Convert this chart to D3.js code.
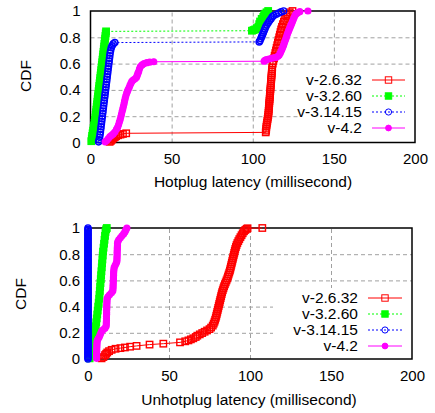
<!DOCTYPE html>
<html><head><meta charset="utf-8">
<script src="https://cdn.jsdelivr.net/npm/d3@7"></script>
<style>
html,body{margin:0;padding:0;background:#fff;}
svg text{font-family:"Liberation Sans",Arial,sans-serif;}
</style></head>
<body><svg id="c" width="435" height="413"></svg>
<script>
// ---------------- data ----------------
const seriesNames = ["v-2.6.32", "v-3.2.60", "v-3.14.15", "v-4.2"];
const xTicks = [0, 50, 100, 150, 200];
const yTicks = [0, 0.2, 0.4, 0.6, 0.8, 1];

// Hotplug latency (ms), CDF
const hot_v2632 = [[11.8,0.005],[12.5,0.012],[13,0.02],[13.5,0.027],[14.2,0.034],[15,0.041],[15.8,0.048],[17,0.055],[18.5,0.06],[20,0.065],[22,0.07],
 [108,0.077],[108.2,0.09],[108.3,0.105],[108.4,0.12],[108.6,0.135],[108.8,0.15],[109,0.165],[109.2,0.18],[109.4,0.195],[109.6,0.21],[109.7,0.225],[109.8,0.24],[109.9,0.255],[110,0.27],[110.1,0.285],[110.2,0.3],[110.3,0.315],[110.4,0.33],[110.5,0.345],[110.6,0.36],[110.7,0.375],[110.8,0.39],[110.9,0.405],[111,0.42],[111.1,0.435],[111.2,0.45],[111.3,0.465],[111.4,0.48],[111.5,0.495],[111.6,0.51],[111.7,0.525],[111.8,0.54],[111.9,0.555],[112,0.57],
 [112.3,0.6],[112.7,0.62],[113.1,0.64],[113.5,0.66],[113.9,0.68],[114.3,0.70],[114.7,0.72],[115.1,0.74],[115.5,0.76],[115.9,0.78],[116.3,0.8],[116.7,0.82],[117.1,0.84],[117.5,0.86],[118,0.88],[118.6,0.9],[119.2,0.92],[119.9,0.94],[120.7,0.96],[121.6,0.975],[122.8,0.99],[124.5,1.0]];
const hot_v3260 = [[0.5,0.01],[0.8,0.03],[1,0.05],[1.3,0.07],[1.6,0.09],[1.9,0.11],[2.2,0.13],[2.5,0.15],[2.8,0.17],[3,0.19],[3.2,0.21],[3.4,0.23],[3.6,0.25],[3.8,0.27],[4,0.29],[4.2,0.31],[4.4,0.33],[4.6,0.35],[4.8,0.37],[5,0.39],[5.2,0.41],[5.4,0.43],[5.6,0.45],[5.8,0.47],[6,0.49],[6.2,0.51],[6.4,0.53],[6.6,0.55],[6.8,0.57],[7,0.59],[7.2,0.61],[7.4,0.63],[7.6,0.65],[7.8,0.67],[8,0.69],[8.2,0.71],[8.4,0.73],[8.6,0.75],[8.8,0.77],[9,0.79],[9.2,0.81],[9.4,0.83],[9.6,0.845],
 [99.5,0.85],[100.5,0.855],[101.5,0.86],[102.5,0.87],[103.5,0.88],[104,0.9],[104.5,0.92],[105.5,0.94],[106.5,0.955],[107,0.97],[107.7,0.98],[108.5,0.99],[109.5,1.0]];
const hot_v31415 = [[5,0.005],[5.3,0.02],[5.6,0.04],[5.9,0.06],[6.1,0.08],[6.3,0.1],[6.5,0.12],[6.7,0.14],[6.9,0.16],[7.1,0.18],[7.3,0.2],[7.5,0.22],[7.7,0.24],[7.9,0.26],[8.1,0.28],[8.3,0.3],[8.5,0.32],[8.7,0.34],[8.9,0.36],[9.1,0.38],[9.3,0.4],[9.5,0.42],[9.7,0.44],[9.9,0.46],[10.1,0.48],[10.3,0.5],[10.5,0.52],[10.7,0.54],[10.9,0.56],[11.1,0.58],[11.3,0.6],[11.5,0.62],[11.7,0.64],[11.9,0.66],[12.1,0.68],[12.4,0.7],[12.8,0.72],[13.3,0.735],[14,0.75],[15,0.76],
 [104,0.765],[104.5,0.775],[105,0.79],[105.5,0.805],[106,0.82],[106.5,0.835],[107,0.85],[107.5,0.865],[108,0.88],[108.7,0.895],[109.5,0.91],[110.3,0.925],[111.2,0.94],[112,0.955],[113,0.965],[114.5,0.975],[116,0.985],[117.5,0.993],[119,1.0]];
const hot_v42 = [[9,0.005],[10,0.015],[11,0.03],[12,0.045],[13,0.055],[14,0.065],[15,0.08],[16,0.1],[16.7,0.115],[17.3,0.135],[17.8,0.155],[18.3,0.175],[18.7,0.195],[19.1,0.215],[19.5,0.235],[19.9,0.255],[20.3,0.275],[20.7,0.295],[21,0.315],[21.4,0.335],[21.8,0.355],[22.3,0.375],[22.8,0.39],[23.3,0.405],[23.9,0.42],[24.4,0.437],[25,0.452],[25.5,0.465],[26.3,0.475],[27.3,0.483],[28.3,0.495],[28.8,0.51],[29.2,0.525],[29.7,0.54],[30.2,0.56],[30.8,0.578],[31.8,0.59],[33,0.6],[34.7,0.607],[36.5,0.611],[39,0.614],
 [107,0.618],[107.5,0.624],[108.5,0.63],[110,0.635],[111.5,0.64],[113,0.644],[114.5,0.648],[115.5,0.655],[116.3,0.665],[117,0.68],[117.5,0.695],[118,0.71],[118.5,0.725],[119,0.74],[119.4,0.755],[119.8,0.77],[120.3,0.785],[120.7,0.8],[121.1,0.815],[121.5,0.83],[122,0.845],[122.5,0.86],[123,0.875],[123.5,0.89],[124,0.905],[124.5,0.92],[125,0.935],[125.5,0.95],[126,0.965],[126.7,0.978],[127.7,0.987],[129,0.995],[134,1.0]];

// Unhotplug latency (ms), CDF
const unhot_v2632 = [[8.4,0.005],[9.5,0.015],[10.5,0.03],[11.2,0.04],[11.9,0.05],[13,0.06],[14.6,0.07],[17,0.078],[20,0.083],[22.8,0.088],[26,0.094],[30,0.1],[38,0.11],[46.5,0.117],[56.8,0.127],[60,0.135],[62,0.142],[63.5,0.15],[65,0.158],[66.5,0.168],[67.5,0.178],[69,0.188],[70.5,0.198],[72,0.208],[73.5,0.218],[75,0.228],[76,0.24],[77,0.255],[77.6,0.27],[78.1,0.285],[78.5,0.3],[78.9,0.315],[79.2,0.33],[79.5,0.345],[79.8,0.36],[80.1,0.375],[80.4,0.39],[80.7,0.405],[81,0.42],[81.3,0.435],[81.6,0.45],[81.9,0.465],[82.2,0.48],[82.5,0.495],[82.8,0.51],[83.2,0.525],[83.6,0.54],[84,0.555],[84.5,0.57],[85,0.585],[85.5,0.6],[86,0.615],[86.4,0.63],[86.8,0.645],[87.2,0.66],[87.6,0.675],[87.9,0.69],[88.2,0.705],[88.5,0.72],[88.8,0.735],[89.1,0.75],[89.4,0.765],[89.7,0.78],[90,0.795],[90.3,0.81],[90.6,0.825],[90.9,0.84],[91.3,0.855],[91.7,0.87],[92.2,0.885],[92.8,0.9],[93.4,0.915],[94.1,0.93],[94.8,0.945],[95.5,0.96],[96.3,0.975],[97.1,0.985],[97.9,0.993],[98.5,0.998],[107.6,1.0]];
const unhot_v3260 = [[1,0.005],[2,0.02],[2.6,0.04],[3,0.07],[3.3,0.1],[3.6,0.13],[3.9,0.16],[4.2,0.19],[4.5,0.22],[4.8,0.25],[5.1,0.28],[5.4,0.31],[5.7,0.34],[6,0.37],[6.3,0.4],[6.6,0.43],[6.9,0.46],[7.1,0.49],[7.3,0.52],[7.5,0.55],[7.7,0.58],[7.9,0.61],[8.1,0.64],[8.3,0.67],[8.5,0.7],[8.7,0.73],[8.9,0.76],[9.1,0.79],[9.3,0.82],[9.6,0.85],[9.9,0.88],[10.2,0.91],[10.5,0.94],[10.8,0.97],[11.2,0.99],[11.6,1.0]];
const unhot_v31415 = [[0,0.0],[0,0.01],[0,0.02],[0,0.03],[0,0.04],[0,0.05],[0,0.06],[0,0.07],[0,0.08],[0,0.09],[0,0.1],[0,0.11],[0,0.12],[0,0.13],[0,0.14],[0,0.15],[0,0.16],[0,0.17],[0,0.18],[0,0.19],[0,0.2],[0,0.21],[0,0.22],[0,0.23],[0,0.24],[0,0.25],[0,0.26],[0,0.27],[0,0.28],[0,0.29],[0,0.3],[0,0.31],[0,0.32],[0,0.33],[0,0.34],[0,0.35],[0,0.36],[0,0.37],[0,0.38],[0,0.39],[0,0.4],[0,0.41],[0,0.42],[0,0.43],[0,0.44],[0,0.45],[0,0.46],[0,0.47],[0,0.48],[0,0.49],[0,0.5],[0,0.51],[0,0.52],[0,0.53],[0,0.54],[0,0.55],[0,0.56],[0,0.57],[0,0.58],[0,0.59],[0,0.6],[0,0.61],[0,0.62],[0,0.63],[0,0.64],[0,0.65],[0,0.66],[0,0.67],[0,0.68],[0,0.69],[0,0.7],[0,0.71],[0,0.72],[0,0.73],[0,0.74],[0,0.75],[0,0.76],[0,0.77],[0,0.78],[0,0.79],[0,0.8],[0,0.81],[0,0.82],[0,0.83],[0,0.84],[0,0.85],[0,0.86],[0,0.87],[0,0.88],[0,0.89],[0,0.9],[0,0.91],[0,0.92],[0,0.93],[0,0.94],[0,0.95],[0,0.96],[0,0.97],[0,0.98],[0,0.99],[0,1.0]];
const unhot_v42 = [[5.3,0.005],[5.3,0.02],[5.3,0.035],[5.4,0.05],[5.4,0.065],[5.4,0.08],[5.5,0.095],[5.5,0.11],[5.6,0.125],[5.7,0.14],[6.3,0.155],[7,0.17],[7.5,0.185],[8,0.2],[8.5,0.215],[9.5,0.225],[10.5,0.235],[11.2,0.25],[11.3,0.265],[11.3,0.28],[11.4,0.295],[11.4,0.31],[11.4,0.325],[11.5,0.34],[11.5,0.355],[11.5,0.37],[11.6,0.385],[11.6,0.4],[11.6,0.415],[11.7,0.43],[11.7,0.445],[11.8,0.46],[12.3,0.475],[13.3,0.49],[14.5,0.505],[15.3,0.52],[15.4,0.535],[15.5,0.55],[15.5,0.565],[15.6,0.58],[15.6,0.595],[15.7,0.61],[15.7,0.625],[15.8,0.64],[15.8,0.655],[15.9,0.67],[16,0.685],[16.2,0.7],[16.8,0.715],[17.4,0.73],[17.8,0.745],[17.9,0.76],[17.9,0.775],[18,0.79],[18,0.805],[18,0.82],[18.1,0.835],[18.1,0.85],[18.2,0.865],[18.2,0.88],[18.4,0.895],[19,0.91],[20,0.925],[21,0.94],[22,0.955],[22.8,0.97],[23.4,0.985],[24,1.0]];

// ---------------- styles ----------------
const styles = [
  {color:"#ff0000", dash:null,  marker:"sq-open"},
  {color:"#00ff00", dash:"2,2", marker:"sq-fill"},
  {color:"#0000ff", dash:"2,2", marker:"ci-open"},
  {color:"#ff00ff", dash:null,  marker:"ci-fill"}
];

const svg = d3.select("#c");
const FONT = 15;
const TITLE_FONT = 15.5;

function drawMarker(g, type, color, x, y, sw){
  if (type.startsWith("sq")) {
    g.append("rect").attr("x", x-3.2).attr("y", y-3.2).attr("width", 6.4).attr("height", 6.4)
      .attr("fill", type==="sq-fill" ? color : "none").attr("stroke", color).attr("stroke-width", sw);
  } else {
    g.append("circle").attr("cx", x).attr("cy", y).attr("r", type==="ci-fill" ? 2.9 : 3.1)
      .attr("fill", type==="ci-fill" ? color : "none").attr("stroke", color).attr("stroke-width", sw);
  }
}

function panel(cfg){
  const x = d3.scaleLinear().domain([0,200]).range([cfg.left, cfg.right]);
  const y = d3.scaleLinear().domain([0,1]).range([cfg.bottom, cfg.top]);
  const g = svg.append("g");

  // grid
  g.append("g").attr("transform", `translate(0,${cfg.bottom})`)
    .call(d3.axisBottom(x).tickValues([50,100,150]).tickSize(-(cfg.bottom-cfg.top)).tickFormat(""))
    .call(a=>a.select(".domain").remove())
    .selectAll("line").attr("stroke","#a0a0a0").attr("stroke-dasharray","4,3");
  g.append("g").attr("transform", `translate(${cfg.left},0)`)
    .call(d3.axisLeft(y).tickValues([0.2,0.4,0.6,0.8]).tickSize(-(cfg.right-cfg.left)).tickFormat(""))
    .call(a=>a.select(".domain").remove())
    .selectAll("line").attr("stroke","#a0a0a0").attr("stroke-dasharray","4,3");

  // legend background
  g.append("rect").attr("x", cfg.keyBox[0]).attr("y", cfg.keyBox[1])
    .attr("width", cfg.right - cfg.keyBox[0]).attr("height", cfg.bottom - cfg.keyBox[1]).attr("fill","#fff");

  // border
  g.append("rect").attr("x", cfg.left).attr("y", cfg.top).attr("width", cfg.right-cfg.left)
    .attr("height", cfg.bottom-cfg.top).attr("fill","none").attr("stroke","#000").attr("stroke-width",1.5);

  // tick labels
  const xa = g.append("g").attr("transform", `translate(0,${cfg.bottom})`)
    .call(d3.axisBottom(x).tickValues(xTicks).tickSize(0).tickPadding(cfg.xPad).tickFormat(d3.format("~g")));
  xa.select(".domain").remove();
  xa.selectAll("text").attr("font-size", FONT).attr("fill","#000").attr("font-family","Liberation Sans, Arial, sans-serif");
  const ya = g.append("g").attr("transform", `translate(${cfg.left},0)`)
    .call(d3.axisLeft(y).tickValues(yTicks).tickSize(0).tickPadding(cfg.yPad).tickFormat(d3.format("~g")));
  ya.select(".domain").remove();
  ya.selectAll("text").attr("font-size", FONT).attr("fill","#000").attr("font-family","Liberation Sans, Arial, sans-serif");

  // axis titles
  g.append("text").attr("x", cfg.xLabelX).attr("y", cfg.xLabelY)
    .attr("text-anchor","middle").attr("font-size", TITLE_FONT).text(cfg.xLabel);
  g.append("text").attr("transform", `translate(${cfg.yLabelX},${cfg.yLabelY}) rotate(-90)`)
    .attr("text-anchor","middle").attr("dy","0.35em").attr("font-size", TITLE_FONT).text("CDF");

  // data
  const line = d3.line().x(d=>x(d[0])).y(d=>y(d[1]));
  cfg.data.forEach((data, i) => {
    const s = styles[i];
    const sg = g.append("g");
    sg.append("path").datum(data).attr("d", line).attr("fill","none")
      .attr("stroke", s.color).attr("stroke-width", 1).attr("stroke-dasharray", s.dash);
    data.forEach(d => drawMarker(sg, s.marker, s.color, x(d[0]), y(d[1]), 1.4));
  });

  // legend
  seriesNames.forEach((name, i) => {
    const s = styles[i];
    const yy = cfg.keyY[i];
    g.append("text").attr("x", cfg.keyText).attr("y", yy).attr("dy","0.35em")
      .attr("text-anchor","end").attr("font-size", TITLE_FONT).text(name);
    g.append("line").attr("x1", cfg.keyLine[0]).attr("x2", cfg.keyLine[1]).attr("y1", yy).attr("y2", yy)
      .attr("stroke", s.color).attr("stroke-width", 1).attr("stroke-dasharray", s.dash);
    drawMarker(g, s.marker, s.color, (cfg.keyLine[0]+cfg.keyLine[1])/2, yy, 1);
  });
}

panel({left:90.5, right:415, top:11, bottom:142.5, xPad:10.5, yPad:10,
  xLabel:"Hotplug latency (millisecond)", xLabelX:253, xLabelY:187, yLabelX:26, yLabelY:76,
  keyBox:[300,68], keyText:362, keyLine:[372,405], keyY:[80,96,112,128],
  data:[hot_v2632, hot_v3260, hot_v31415, hot_v42]});

panel({left:88, right:412, top:228, bottom:359, xPad:11, yPad:8,
  xLabel:"Unhotplug latency (millisecond)", xLabelX:249, xLabelY:405, yLabelX:21, yLabelY:294,
  keyBox:[273,288], keyText:358, keyLine:[368,402], keyY:[298,314,330,346],
  data:[unhot_v2632, unhot_v3260, unhot_v31415, unhot_v42]});
</script></body></html>
